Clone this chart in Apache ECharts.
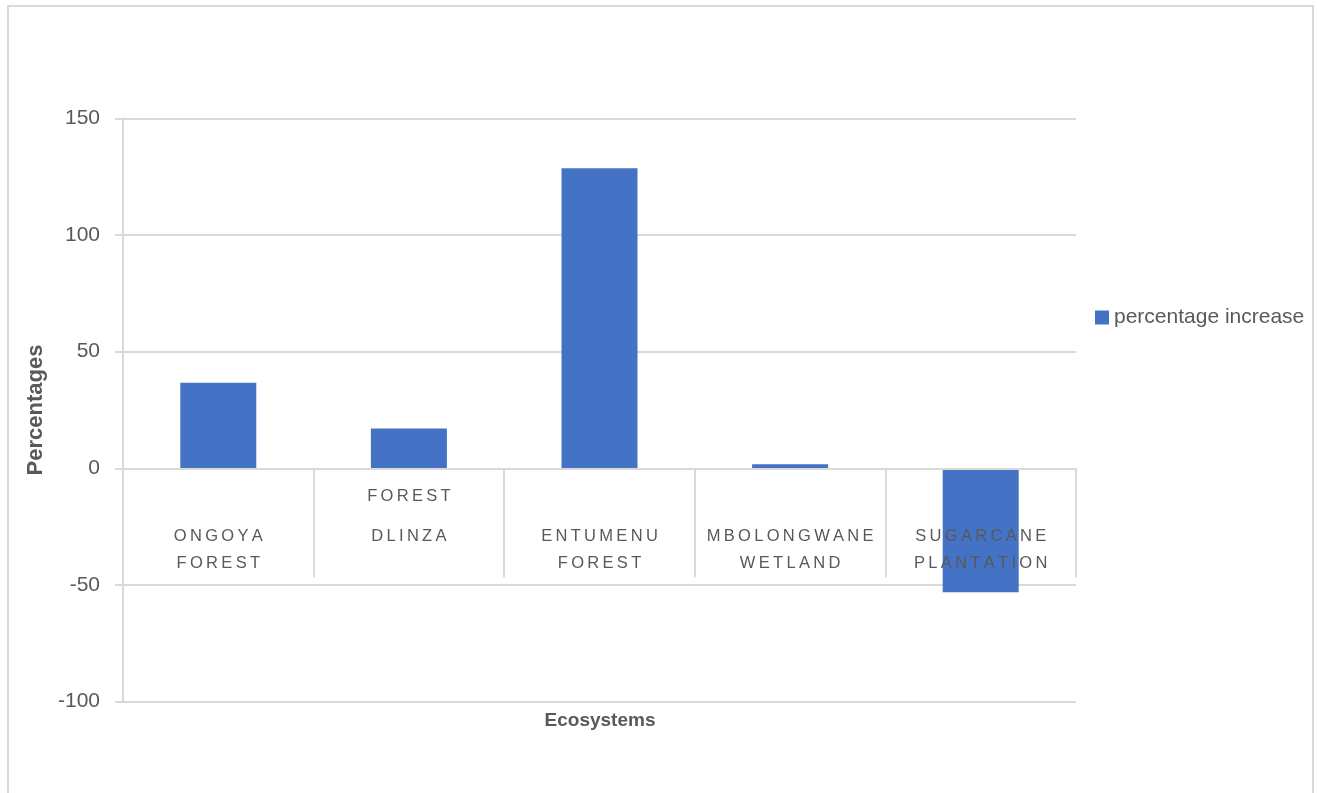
<!DOCTYPE html>
<html>
<head>
<meta charset="utf-8">
<title>Percentage increase by ecosystem</title>
<script src="https://cdn.jsdelivr.net/npm/echarts@6/dist/echarts.min.js"></script>
<style>
  html, body { margin: 0; padding: 0; background: #ffffff; }
  #chart { width: 1317px; height: 793px; }
</style>
</head>
<body>
<div id="chart"></div>
<script>
// Ecosystem names and the percentage change measured in each
const categories = ['ONGOYA FOREST', 'DLINZA FOREST', 'ENTUMENU FOREST', 'MBOLONGWANE WETLAND', 'SUGARCANE PLANTATION'];
const percentageIncrease = [36.7, 17.1, 128.6, 1.8, -53.1];

// Category labels as they wrap under the axis (top slot, first line, second line)
const tickLabelLines = [
  ['', 'ONGOYA', 'FOREST'],
  ['FOREST', 'DLINZA', ''],
  ['', 'ENTUMENU', 'FOREST'],
  ['', 'MBOLONGWANE', 'WETLAND'],
  ['', 'SUGARCANE', 'PLANTATION']
];

const yTicks = { min: -100, max: 150, interval: 50 };

const TEXT = '#595959';
const GRID_LINE = '#d9d9d9';
const BAR = '#4472C4';
const FONT = '"Liberation Sans", Arial, sans-serif';

// plot box in pixels
const GRID = { left: 123, right: 241, top: 118.3, bottom: 91.3 };
const plotHeight = 793 - GRID.top - GRID.bottom;
// lift the category axis from the bottom edge up to the zero line
const zeroOffset = -plotHeight * (0 - yTicks.min) / (yTicks.max - yTicks.min);

// widen the tracking of the category labels
const spaced = s => s.split('').join('\u2009');

const chart = echarts.init(document.getElementById('chart'), null, { renderer: 'canvas' });

chart.setOption({
  animation: false,
  backgroundColor: '#ffffff',
  textStyle: { fontFamily: FONT },
  grid: {
    left: GRID.left, right: GRID.right, top: GRID.top, bottom: GRID.bottom,
    containLabel: false,
    outerBoundsMode: 'none'
  },
  legend: {
    data: ['percentage increase'],
    left: 1090,
    top: 302,
    orient: 'vertical',
    icon: 'rect',
    itemWidth: 14,
    itemHeight: 14,
    textStyle: { color: TEXT, fontSize: 21, fontFamily: FONT }
  },
  xAxis: {
    type: 'category',
    position: 'bottom',
    offset: zeroOffset,
    data: categories,
    z: 3,
    axisLine: { show: true, onZero: false, lineStyle: { color: GRID_LINE, width: 2 } },
    axisTick: { show: true, length: 109, alignWithLabel: false, interval: 0, lineStyle: { color: GRID_LINE, width: 2 } },
    splitLine: { show: false },
    axisLabel: {
      interval: 0,
      margin: 1,
      formatter: (value, index) => {
        const l = tickLabelLines[index];
        const part = t => (t ? spaced(t) : ' ');
        return '{a|' + part(l[0]) + '}\n{b|' + part(l[1]) + '}\n{b|' + part(l[2]) + '}';
      },
      rich: {
        a: { lineHeight: 54, fontSize: 16.5, color: TEXT, fontFamily: FONT },
        b: { lineHeight: 26.6, fontSize: 16.5, color: TEXT, fontFamily: FONT }
      }
    }
  },
  yAxis: {
    type: 'value',
    min: yTicks.min,
    max: yTicks.max,
    interval: yTicks.interval,
    name: 'Percentages',
    nameLocation: 'middle',
    nameGap: 76,
    nameRotate: 90,
    nameTextStyle: { color: TEXT, fontSize: 22, fontWeight: 'bold', fontFamily: FONT },
    axisLine: { show: true, lineStyle: { color: GRID_LINE, width: 2 } },
    axisTick: { show: true, inside: false, length: 8, lineStyle: { color: GRID_LINE, width: 2 } },
    axisLabel: { color: TEXT, fontSize: 21, margin: 23, fontFamily: FONT },
    splitLine: { show: true, lineStyle: { color: GRID_LINE, width: 2 } }
  },
  series: [{
    name: 'percentage increase',
    type: 'bar',
    data: percentageIncrease,
    barWidth: 76,
    itemStyle: { color: BAR }
  }],
  graphic: [
    {
      type: 'rect',
      silent: true,
      shape: { x: 8, y: 6, width: 1305, height: 800 },
      style: { fill: 'none', stroke: GRID_LINE, lineWidth: 2 }
    },
    {
      type: 'text',
      silent: true,
      x: 600,
      y: 721,
      style: {
        text: 'Ecosystems',
        fill: TEXT,
        font: 'bold 19px "Liberation Sans", Arial, sans-serif',
        textAlign: 'center',
        textVerticalAlign: 'middle'
      }
    }
  ]
});
</script>
</body>
</html>
